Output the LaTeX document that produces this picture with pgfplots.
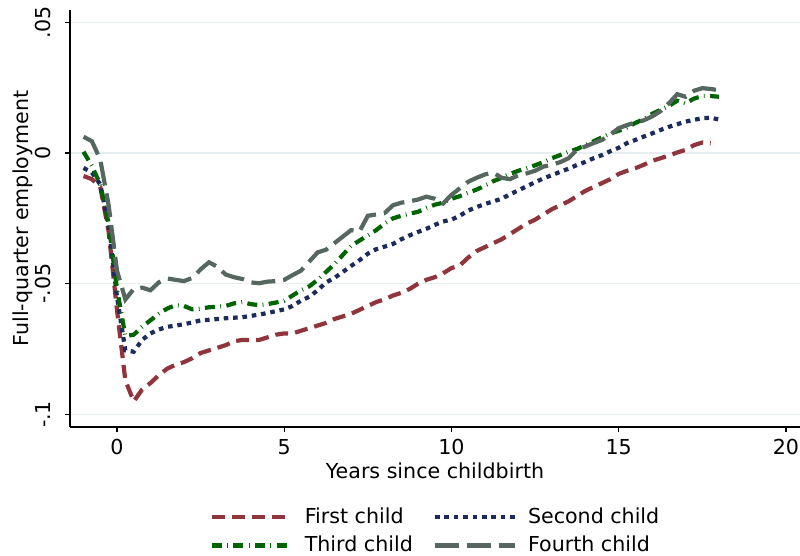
\documentclass[border=0pt]{standalone}
\usepackage{fontspec}
\setmainfont{DejaVu Sans}
\usepackage{pgfplots}
\usepackage{pgfplotstable}
\pgfplotsset{compat=1.18}
\definecolor{cMaroon}{HTML}{90353B}
\definecolor{cNavy}{HTML}{1C2B5C}
\definecolor{cGreen}{HTML}{006400}
\definecolor{cGrey}{HTML}{55675F}
\definecolor{cGrid}{HTML}{E6EEF1}

\pgfplotstableread{
t y
-1 -0.0088
-0.75 -0.0100
-0.5 -0.0130
-0.25 -0.0300
0 -0.0600
0.25 -0.0870
0.5 -0.0950
0.75 -0.0905
1.0 -0.0880
1.25 -0.0850
1.5 -0.0825
1.75 -0.0810
2.0 -0.0800
2.25 -0.0785
2.5 -0.0765
2.75 -0.0755
3.0 -0.0745
3.25 -0.0735
3.5 -0.0720
3.75 -0.0715
4.0 -0.0715
4.25 -0.0715
4.5 -0.0705
4.75 -0.0695
5.0 -0.0690
5.25 -0.0690
5.5 -0.0680
5.75 -0.0670
6.0 -0.0660
6.25 -0.0650
6.5 -0.0635
6.75 -0.0625
7.0 -0.0615
7.25 -0.0600
7.5 -0.0585
7.75 -0.0570
8.0 -0.0560
8.25 -0.0545
8.5 -0.0535
8.75 -0.0520
9.0 -0.0500
9.25 -0.0485
9.5 -0.0475
9.75 -0.0460
10.0 -0.0440
10.25 -0.0430
10.5 -0.0400
10.75 -0.0375
11.0 -0.0360
11.25 -0.0345
11.5 -0.0330
11.75 -0.0310
12.0 -0.0290
12.25 -0.0270
12.5 -0.0255
12.75 -0.0235
13.0 -0.0215
13.25 -0.0200
13.5 -0.0185
13.75 -0.0165
14.0 -0.0145
14.25 -0.0130
14.5 -0.0115
14.75 -0.0100
15.0 -0.0080
15.25 -0.0068
15.5 -0.0058
15.75 -0.0045
16.0 -0.0030
16.25 -0.0020
16.5 -0.0010
16.75 0.0002
17.0 0.0012
17.25 0.0030
17.5 0.0040
17.75 0.0037
}\first

\pgfplotstableread{
t y
-1 -0.0057
-0.75 -0.0075
-0.5 -0.0120
-0.25 -0.0280
0 -0.0550
0.25 -0.0755
0.5 -0.0760
0.75 -0.0715
1.0 -0.0690
1.25 -0.0675
1.5 -0.0665
1.75 -0.0660
2.0 -0.0655
2.25 -0.0648
2.5 -0.0640
2.75 -0.0638
3.0 -0.0635
3.25 -0.0632
3.5 -0.0630
3.75 -0.0628
4.0 -0.0623
4.25 -0.0618
4.5 -0.0612
4.75 -0.0605
5.0 -0.0598
5.25 -0.0585
5.5 -0.0565
5.75 -0.0550
6.0 -0.0525
6.25 -0.0495
6.5 -0.0478
6.75 -0.0455
7.0 -0.0432
7.25 -0.0410
7.5 -0.0385
7.75 -0.0368
8.0 -0.0358
8.25 -0.0348
8.5 -0.0330
8.75 -0.0315
9.0 -0.0302
9.25 -0.0290
9.5 -0.0275
9.75 -0.0262
10.0 -0.0255
10.25 -0.0240
10.5 -0.0220
10.75 -0.0207
11.0 -0.0195
11.25 -0.0185
11.5 -0.0175
11.75 -0.0158
12.0 -0.0143
12.25 -0.0127
12.5 -0.0112
12.75 -0.0097
13.0 -0.0085
13.25 -0.0072
13.5 -0.0060
13.75 -0.0046
14.0 -0.0034
14.25 -0.0020
14.5 -0.0008
14.75 0.0007
15.0 0.0020
15.25 0.0038
15.5 0.0050
15.75 0.0063
16.0 0.0075
16.25 0.0088
16.5 0.0100
16.75 0.0110
17.0 0.0120
17.25 0.0127
17.5 0.0133
17.75 0.0135
18.0 0.0128
}\second

\pgfplotstableread{
t y
-1 0.0005
-0.75 -0.0050
-0.5 -0.0120
-0.25 -0.0270
0 -0.0520
0.25 -0.0700
0.5 -0.0695
0.75 -0.0665
1.0 -0.0640
1.25 -0.0615
1.5 -0.0595
1.75 -0.0582
2.0 -0.0585
2.25 -0.0598
2.5 -0.0595
2.75 -0.0590
3.0 -0.0588
3.25 -0.0585
3.5 -0.0575
3.75 -0.0570
4.0 -0.0578
4.25 -0.0582
4.5 -0.0578
4.75 -0.0572
5.0 -0.0565
5.25 -0.0545
5.5 -0.0525
5.75 -0.0510
6.0 -0.0485
6.25 -0.0455
6.5 -0.0425
6.75 -0.0390
7.0 -0.0355
7.25 -0.0335
7.5 -0.0315
7.75 -0.0295
8.0 -0.0270
8.25 -0.0250
8.5 -0.0240
8.75 -0.0232
9.0 -0.0225
9.25 -0.0210
9.5 -0.0198
9.75 -0.0190
10.0 -0.0175
10.25 -0.0165
10.5 -0.0152
10.75 -0.0140
11.0 -0.0125
11.25 -0.0108
11.5 -0.0095
11.75 -0.0080
12.0 -0.0068
12.25 -0.0058
12.5 -0.0047
12.75 -0.0035
13.0 -0.0020
13.25 -0.0008
13.5 0.0005
13.75 0.0015
14.0 0.0030
14.25 0.0045
14.5 0.0060
14.75 0.0075
15.0 0.0085
15.25 0.0098
15.5 0.0115
15.75 0.0130
16.0 0.0150
16.25 0.0165
16.5 0.0180
16.75 0.0200
17.0 0.0190
17.25 0.0208
17.5 0.0218
17.75 0.0218
18.0 0.0215
}\third

\pgfplotstableread{
t y
-1 0.0062
-0.75 0.0045
-0.5 -0.0025
-0.25 -0.0200
0 -0.0450
0.25 -0.0560
0.5 -0.0520
0.75 -0.0515
1.0 -0.0525
1.25 -0.0495
1.5 -0.0480
1.75 -0.0485
2.0 -0.0490
2.25 -0.0478
2.5 -0.0445
2.75 -0.0418
3.0 -0.0435
3.25 -0.0465
3.5 -0.0475
3.75 -0.0482
4.0 -0.0495
4.25 -0.0498
4.5 -0.0492
4.75 -0.0490
5.0 -0.0485
5.25 -0.0467
5.5 -0.0450
5.75 -0.0415
6.0 -0.0380
6.25 -0.0370
6.5 -0.0345
6.75 -0.0320
7.0 -0.0295
7.25 -0.0300
7.5 -0.0240
7.75 -0.0235
8.0 -0.0230
8.25 -0.0200
8.5 -0.0190
8.75 -0.0185
9.0 -0.0178
9.25 -0.0167
9.5 -0.0175
9.75 -0.0193
10.0 -0.0160
10.25 -0.0135
10.5 -0.0110
10.75 -0.0095
11.0 -0.0082
11.25 -0.0075
11.5 -0.0095
11.75 -0.0100
12.0 -0.0085
12.25 -0.0078
12.5 -0.0068
12.75 -0.0052
13.0 -0.0045
13.25 -0.0035
13.5 -0.0020
13.75 0.0012
14.0 0.0025
14.25 0.0038
14.5 0.0050
14.75 0.0070
15.0 0.0095
15.25 0.0107
15.5 0.0117
15.75 0.0125
16.0 0.0140
16.25 0.0160
16.5 0.0190
16.75 0.0225
17.0 0.0215
17.25 0.0238
17.5 0.0248
17.75 0.0245
18.0 0.0240
}\fourth

\begin{document}
\fontsize{10.3}{12.4}\selectfont
\begin{tikzpicture}
\useasboundingbox (-35pt,-64.5pt) rectangle (365pt,213.5pt);
\begin{axis}[
  at={(0pt,0pt)}, anchor=south west,
  scale only axis, width=365pt, height=208.5pt,
  xmin=-1.405, xmax=20.42, ymin=-0.1048, ymax=0.0547,
  axis x line*=bottom, axis y line*=left,
  axis line style={line width=0.6pt},
  tick align=outside, major tick length=2.5pt,
  tick style={black, line width=0.6pt},
  xtick={0,5,10,15,20}, ytick={-0.1,-0.05,0,0.05},
  yticklabels={-.1,-.05,0,.05},
  ymajorgrids, grid style={cGrid, line width=0.75pt},
  /pgf/number format/assume math mode=true,
  ticklabel style={font=\fontsize{10.3}{12.4}\selectfont},
  yticklabel style={rotate=90, anchor=south, inner sep=0pt},
  yticklabel shift=7pt,
  every axis x label/.style={at={(axis description cs:0.5,-0.0839)}, anchor=north, inner sep=0pt},
  every axis y label/.style={at={(axis description cs:-0.065,0.5)}, rotate=90, anchor=center, inner sep=0pt},
  xlabel={Years since childbirth}, ylabel={Full-quarter employment},
  legend style={at={(axis description cs:0.502,-0.1727)}, anchor=north, draw=none, fill=none,
    legend columns=2, font=\fontsize{10.3}{12.4}\selectfont,
    /tikz/every odd column/.append style={column sep=3.5pt},
    /tikz/every even column/.append style={column sep=8pt}, row sep=1pt},
  legend cell align=left,
  legend image code/.code={\draw[#1] (0pt,0pt) -- (40pt,0pt);},
]
\addplot[cMaroon, line width=2.1pt, dash pattern=on 6.5pt off 3.5pt] table[x=t,y=y] {\first};
\addlegendentry{First child}
\addplot[cNavy, line width=2.1pt, dash pattern=on 2.3pt off 2.4pt] table[x=t,y=y] {\second};
\addlegendentry{Second child}
\addplot[cGreen, line width=2.1pt, dash pattern=on 5pt off 2.7pt on 0.4pt off 2.7pt] table[x=t,y=y] {\third};
\addlegendentry{Third child}
\addplot[cGrey, line width=2.1pt, dash pattern=on 12pt off 4pt] table[x=t,y=y] {\fourth};
\addlegendentry{Fourth child}
\end{axis}
\end{tikzpicture}
\end{document}
